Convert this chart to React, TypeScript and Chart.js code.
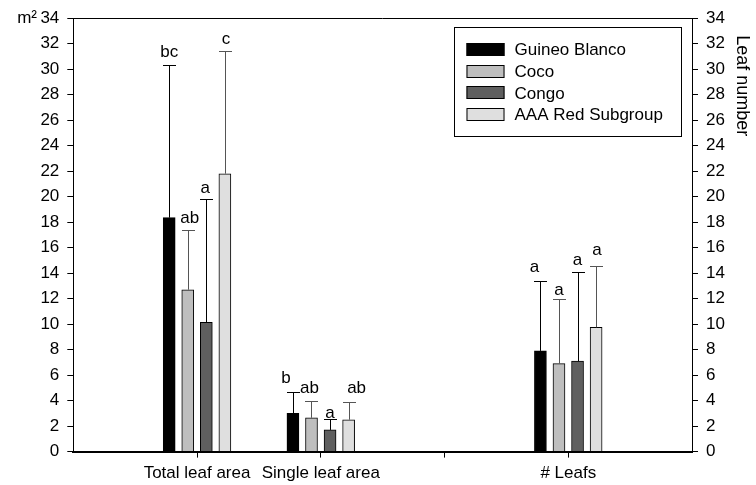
import { useEffect, useRef } from 'react';
import { Chart, registerables } from 'chart.js';

Chart.register(...registerables);

// ---------- data ----------
const categories = ['Total leaf area', 'Single leaf area', '# Leafs'];
const categoryPositions = [1, 2, 4];
const xTickPositions = [1, 2, 3, 4];
const seriesNames = ['Guineo Blanco', 'Coco', 'Congo', 'AAA Red Subgroup'];

const guineoBlanco = [18.35, 3.0, 7.9];
const coco = [12.7, 2.65, 6.9];
const congo = [10.15, 1.7, 7.1];
const aaaRed = [21.8, 2.5, 9.75];

// upper end of the error whiskers
const guineoBlancoUpper = [30.35, 4.7, 13.35];
const cocoUpper = [17.35, 3.95, 11.95];
const congoUpper = [19.85, 2.55, 14.1];
const aaaRedUpper = [31.45, 3.9, 14.55];

const guineoBlancoLetters = ['bc', 'b', 'a'];
const cocoLetters = ['ab', 'ab', 'a'];
const congoLetters = ['a', 'a', 'a'];
const aaaRedLetters = ['c', 'ab', 'a'];

const yTicks = [0, 2, 4, 6, 8, 10, 12, 14, 16, 18, 20, 22, 24, 26, 28, 30, 32, 34];

const leftAxisTitle = 'm²';
const rightAxisTitle = 'Leaf number';

// ---------- style / layout ----------
const FONT = "'Liberation Sans', Arial, Helvetica, sans-serif";
const seriesValues = [guineoBlanco, coco, congo, aaaRed];
const seriesUpper = [guineoBlancoUpper, cocoUpper, congoUpper, aaaRedUpper];
const seriesLetters = [guineoBlancoLetters, cocoLetters, congoLetters, aaaRedLetters];
const seriesOffsets = [-0.225, -0.075, 0.075, 0.225];
const seriesColors = ['#000000', '#bebebe', '#5f5f5f', '#dfdfdf'];
const whiskerColors = ['#000000', '#555555', '#000000', '#555555'];
// [dx, gap above whisker cap] for each letter, in px
const letterNudges = [
  [[0, 9], [-7, 10], [-6, 10]],
  [[2, 8], [-2, 9], [0, 5]],
  [[-1, 7], [0, 2], [0, 8]],
  [[1, 8], [8, 10], [1, 12]],
];

const overlayPlugin = {
  id: 'overlay',
  afterDatasetsDraw(chart: any) {
    const ctx = chart.ctx;
    const yScale = chart.scales.y;
    chart.data.datasets.forEach((_ds: any, i: number) => {
      const meta = chart.getDatasetMeta(i);
      meta.data.forEach((bar: any, j: number) => {
        const top = Math.round(yScale.getPixelForValue(seriesUpper[i][j])) + 0.5;
        const x = Math.round(bar.x) + 0.5;
        ctx.save();
        ctx.strokeStyle = whiskerColors[i];
        ctx.lineWidth = 1;
        ctx.beginPath();
        ctx.moveTo(x, bar.y);
        ctx.lineTo(x, top);
        ctx.moveTo(x - 6.5, top);
        ctx.lineTo(x + 6.5, top);
        ctx.stroke();
        ctx.fillStyle = '#000';
        ctx.font = `17px ${FONT}`;
        ctx.textAlign = 'center';
        ctx.textBaseline = 'alphabetic';
        const n = letterNudges[i][j];
        ctx.fillText(seriesLetters[i][j], bar.x + n[0], top - n[1]);
        ctx.restore();
      });
    });
  },
  afterDraw(chart: any) {
    const ctx = chart.ctx;
    const area = chart.chartArea;
    ctx.save();
    // top frame line
    ctx.strokeStyle = '#000';
    ctx.lineWidth = 1;
    ctx.beginPath();
    ctx.moveTo(area.left, Math.round(area.top) + 0.5);
    ctx.lineTo(area.right, Math.round(area.top) + 0.5);
    ctx.stroke();

    // legend
    const bx = Math.round(area.right) - 237.5;
    const by = Math.round(area.top) + 9.5;
    ctx.strokeRect(bx, by, 227, 109);
    ctx.font = `17px ${FONT}`;
    ctx.textAlign = 'left';
    ctx.textBaseline = 'middle';
    chart.data.datasets.forEach((ds: any, i: number) => {
      const cy = by + 22 + i * 21.7;
      ctx.fillStyle = ds.backgroundColor;
      ctx.fillRect(bx + 12, Math.round(cy - 6.5), 38, 13);
      ctx.strokeStyle = '#000';
      ctx.strokeRect(bx + 12.5, Math.round(cy - 6.5) + 0.5, 37, 12);
      ctx.fillStyle = '#000';
      ctx.fillText(ds.label, bx + 60, cy + 1);
    });

    // axis titles
    ctx.fillStyle = '#000';
    ctx.font = `17px ${FONT}`;
    ctx.textAlign = 'right';
    ctx.textBaseline = 'middle';
    ctx.fillText(leftAxisTitle, 37, area.top);

    ctx.translate(737, area.top + 17);
    ctx.rotate(Math.PI / 2);
    ctx.font = `18px ${FONT}`;
    ctx.textAlign = 'left';
    ctx.textBaseline = 'alphabetic';
    ctx.fillText(rightAxisTitle, 0, 0);
    ctx.restore();
  },
};

export default function App() {
  const ref = useRef<HTMLCanvasElement | null>(null);

  useEffect(() => {
    if (!ref.current) return;
    Chart.defaults.font.family = FONT;
    Chart.defaults.font.size = 17;
    Chart.defaults.color = '#000';

    const datasets = seriesNames.map((name, i) => ({
      label: name,
      data: categoryPositions.map((p, j) => ({ x: p + seriesOffsets[i], y: seriesValues[i][j] })),
      backgroundColor: seriesColors[i],
      borderColor: '#000',
      borderWidth: 1,
      barThickness: 12,
      grouped: false,
      yAxisID: 'y',
    }));

    const yAxisCommon = {
      type: 'linear' as const,
      min: 0,
      max: 34,
      afterBuildTicks: (scale: any) => {
        scale.ticks = yTicks.map((v) => ({ value: v }));
      },
      ticks: { padding: 8, color: '#000', font: { size: 17, family: FONT } },
      grid: { drawOnChartArea: false, drawTicks: true, tickLength: 6, color: '#000', lineWidth: 1 },
      border: { display: true, color: '#000', width: 1 },
    };

    const chart = new Chart(ref.current, {
      type: 'bar',
      data: { datasets },
      plugins: [overlayPlugin],
      options: {
        responsive: false,
        animation: false,
        devicePixelRatio: 1,
        layout: { padding: { top: 16, left: 0, right: 0, bottom: 0 } },
        plugins: { legend: { display: false }, tooltip: { enabled: false } },
        scales: {
          x: {
            type: 'linear',
            min: 0,
            max: 5,
            offset: false,
            afterBuildTicks: (scale: any) => {
              scale.ticks = xTickPositions.map((v) => ({ value: v }));
            },
            afterFit: (scale: any) => {
              scale.height = 33.4;
            },
            ticks: {
              autoSkip: false,
              maxRotation: 0,
              padding: 6,
              color: '#000',
              font: { size: 17, family: FONT },
              callback: (value: any) => {
                const k = categoryPositions.indexOf(Number(value));
                return k >= 0 ? categories[k] : '';
              },
            },
            grid: { offset: false, drawOnChartArea: false, drawTicks: true, tickLength: 6, color: '#000' },
            border: { display: true, color: '#000', width: 2 },
          },
          y: {
            ...yAxisCommon,
            position: 'left',
            afterFit: (scale: any) => {
              scale.width = 73.3;
            },
          },
          y2: {
            ...yAxisCommon,
            position: 'right',
            afterFit: (scale: any) => {
              scale.width = 64;
            },
          },
        },
      } as any,
    });
    return () => chart.destroy();
  }, []);

  return (
    <div style={{ position: 'fixed', left: 0, top: 0, width: 756, height: 485 }}>
      <canvas ref={ref} width={756} height={485} style={{ width: 756, height: 485 }} />
    </div>
  );
}
